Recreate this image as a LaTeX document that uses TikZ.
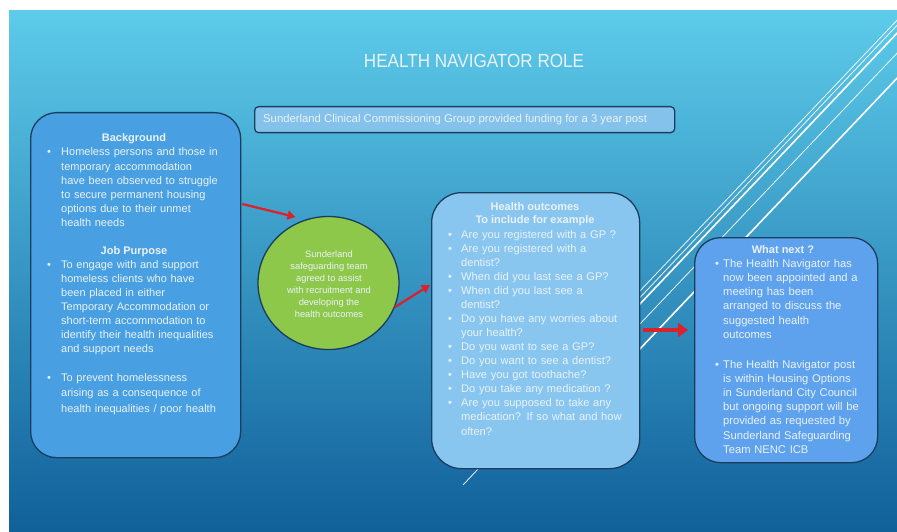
\documentclass[tikz,border=0pt]{standalone}
\usepackage{fontspec}
\setmainfont{Liberation Sans}
\newfontfamily\titlefont[FakeStretch=0.9]{Liberation Sans}
\usetikzlibrary{calc,arrows.meta,shapes.geometric}
\definecolor{bgtop}{HTML}{5DCBEA}
\definecolor{bgmid}{HTML}{3898C6}
\definecolor{bgbot}{HTML}{10609A}
\definecolor{edgec}{HTML}{1C3D5E}
\definecolor{leftc}{HTML}{48A0E2}
\definecolor{midc}{HTML}{88C6F0}
\definecolor{rightc}{HTML}{5EA2EE}
\definecolor{bannerc}{HTML}{84C2EC}
\definecolor{greenc}{HTML}{8DC84A}
\definecolor{txt}{HTML}{EAF2F9}
\definecolor{arrc}{HTML}{D9222C}
\newcommand\hitem[2]{\hangindent=#1\hangafter=1\noindent\makebox[#1][l]{\textbullet}#2\par}
\tikzset{
  panel/.style={draw=edgec,line width=1.3pt,anchor=north west,inner sep=0pt},
  body/.style={text=txt,font=\fontsize{11}{14.1}\selectfont,align=left,anchor=base west,inner sep=0pt,text width=#1},
  head/.style={text=txt,font=\fontsize{11}{14}\selectfont\bfseries,anchor=base,inner sep=0pt},
  arr/.style={draw=arrc,line width=2.3pt,-{Triangle[length=8pt,width=9pt]}},
  arrbig/.style={draw=arrc,line width=3.3pt,-{Triangle[length=10pt,width=14pt]}},
  deco/.style={white,line width=0.7pt},
  decothick/.style={white,line width=1.6pt},
}
\begin{document}
\begin{tikzpicture}[x=1pt,y=-1pt]
\useasboundingbox (0,0) rectangle (897,532);
\fill[white] (0,0) rectangle (897,532);
\shade[top color=bgtop, middle color=bgmid, bottom color=bgbot] (9,11) rectangle (897,532);
\begin{scope}
  \clip (9,11) rectangle (897,532);
  \draw[deco] (600,333) -- (920,-4);
  \draw[deco] (463,485) -- (920,1);
  \draw[decothick] (600,346) -- (920,9);
  \draw[deco] (600,366) -- (920,29);
  \draw[decothick] (600,391) -- (920,54);
\end{scope}

% title and banner
\node[font=\titlefont\fontsize{19}{22}\selectfont, text=txt, anchor=base, inner sep=0pt] (title) at (474,68) {HEALTH NAVIGATOR ROLE};
\node[panel, fill=bannerc, rounded corners=4pt, minimum width=420, minimum height=26] (banner) at (254,106) {};
\node[text=txt, font=\fontsize{11.3}{13}\selectfont, anchor=base west, inner sep=0pt] (bantext) at (263,123) {Sunderland Clinical Commissioning Group provided funding for a 3 year post};

% panels
\node[panel, fill=leftc, rounded corners=26pt, minimum width=210, minimum height=345] (lbox) at (30,112) {};
\node[ellipse, draw=edgec, line width=1.3pt, fill=greenc, minimum width=141, minimum height=133, inner sep=0pt] (circ) at (328.5,283) {};
\node[panel, fill=midc, rounded corners=30pt, minimum width=208, minimum height=276] (mbox) at (431,192) {};
\node[panel, fill=rightc, rounded corners=26pt, minimum width=183, minimum height=225] (rbox) at (694,237) {};

% arrows
\draw[arr] ($(lbox.north east)+(1,92)$) -- ($(circ.center)+(-33,-66)$);
\draw[arr] (circ.-20) -- ($(mbox.north west)+(-1,93)$);
\draw[arrbig] ($(mbox.north east)+(3,138)$) -- ($(rbox.north west)+(-6,93)$);

% left box text
\node[head] (bghead) at (134,142) {Background};
\node[body=200] (bgtext) at (47,156) {\hitem{14pt}{Homeless persons and those in\newline temporary accommodation\newline have been observed to struggle\newline to secure permanent housing\newline options due to their unmet\newline health needs}};
\node[head] (jphead) at (134,254) {Job Purpose};
\node[body=200] (jptext) at (47,268.3) {\hitem{14pt}{To engage with and support\newline homeless clients who have\newline been placed in either\newline Temporary Accommodation or\newline short-term accommodation to\newline identify their health inequalities\newline and support needs}};
\node[body=200, font=\fontsize{11}{15.8}\selectfont] (prtext) at (47,381) {\hitem{14pt}{To prevent homelessness\newline arising as a consequence of\newline health inequalities / poor health}};

% circle text
\node[text=txt, font=\fontsize{9.3}{11.9}\selectfont, align=center, anchor=center, inner sep=0pt] (circtext) at (329,284) {Sunderland\\safeguarding team\\agreed to assist\\with recruitment and\\developing the\\health outcomes};

% middle box text
\node[head] (mhead1) at (535,210) {Health outcomes};
\node[head] (mhead2) at (535,223.3) {To include for example};
\node[body=190, font=\fontsize{11.1}{14.05}\selectfont] (mtext) at (448,238.3) {%
\hitem{13pt}{Are you registered with a GP ?}%
\hitem{13pt}{Are you registered with a\newline dentist?}%
\hitem{13pt}{When did you last see a GP?}%
\hitem{13pt}{When did you last see a\newline dentist?}%
\hitem{13pt}{Do you have any worries about\newline your health?}%
\hitem{13pt}{Do you want to see a GP?}%
\hitem{13pt}{Do you want to see a dentist?}%
\hitem{13pt}{Have you got toothache?}%
\hitem{13pt}{Do you take any medication ?}%
\hitem{13pt}{Are you supposed to take any\newline medication? If so what and how\newline often?}};

% right box text
\node[head] (rhead) at (783,253.6) {What next ?};
\node[body=170, font=\fontsize{11.2}{14.25}\selectfont] (rtext1) at (715,267) {\hitem{8pt}{The Health Navigator has\newline now been appointed and a\newline meeting has been\newline arranged to discuss the\newline suggested health\newline outcomes}};
\node[body=170, font=\fontsize{11.2}{14.2}\selectfont] (rtext2) at (715,368) {\hitem{8pt}{The Health Navigator post\newline is within Housing Options\newline in Sunderland City Council\newline but ongoing support will be\newline provided as requested by\newline Sunderland Safeguarding\newline Team NENC ICB}};
\end{tikzpicture}
\end{document}
